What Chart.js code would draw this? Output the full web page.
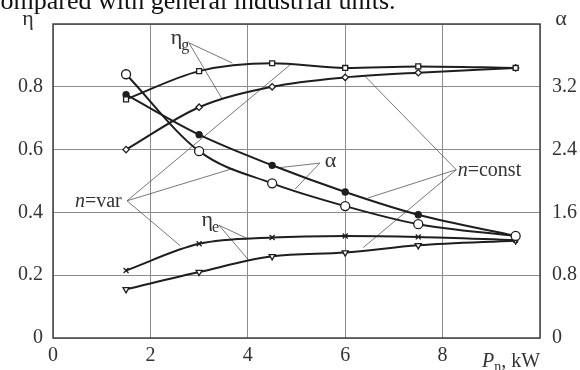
<!DOCTYPE html>
<html>
<head>
<meta charset="utf-8">
<script src="https://cdn.jsdelivr.net/npm/chart.js@4"></script>
<style>
  html, body { margin: 0; padding: 0; background: #fff; }
  canvas { display: block; }
</style>
</head>
<body>
<canvas id="effChart" width="580" height="370"></canvas>
<script>
// output power, kW
const power = [1.5, 3, 4.5, 6, 7.5, 9.5];

// efficiencies (left axis) and alpha (right axis)
const etaGVar = [0.76, 0.85, 0.875, 0.86, 0.865, 0.86];
const etaGConst = [0.60, 0.735, 0.80, 0.83, 0.845, 0.86];
const alphaVar = [3.36, 2.38, 1.97, 1.68, 1.45, 1.30];
const alphaConst = [3.10, 2.59, 2.20, 1.86, 1.57, 1.30];
const etaEVar = [0.215, 0.30, 0.32, 0.325, 0.322, 0.312];
const etaEConst = [0.155, 0.21, 0.26, 0.272, 0.295, 0.31];

const xTicks = [0, 2, 4, 6, 8];
const etaTicks = [0, 0.2, 0.4, 0.6, 0.8];
const alphaTicks = [0, 0.8, 1.6, 2.4, 3.2];

const SERIF = '"Liberation Serif", "DejaVu Serif", serif';
const INK = '#1e1e1e';

function pts(ys) {
  return power.map((p, i) => ({ x: p, y: ys[i] }));
}

function series(label, ys, axis, style, radius, fill, rotation) {
  return {
    label: label,
    data: pts(ys),
    yAxisID: axis,
    borderColor: INK,
    borderWidth: 2,
    cubicInterpolationMode: 'monotone',
    pointStyle: style,
    pointRadius: radius,
    pointRotation: rotation || 0,
    pointBackgroundColor: fill,
    pointBorderColor: INK,
    pointBorderWidth: 1.3,
    fill: false
  };
}

// callout labels with leader lines, in data coordinates (x, eta)
const callouts = [
  { text: 'η', sub: 'g', at: [2.42, 0.955], from: [2.79, 0.94], to: [[3.68, 0.876], [3.47, 0.762]] },
  { text: 'n=var', at: [0.45, 0.437], from: [1.52, 0.437], to: [[4.87, 0.870], [3.70, 0.540], [2.61, 0.294]] },
  { text: 'n=const', at: [8.31, 0.536], from: [8.28, 0.536], to: [[6.41, 0.833], [6.47, 0.446], [6.37, 0.288]] },
  { text: 'α', at: [5.58, 0.565], from: [5.48, 0.557], to: [[4.62, 0.542], [4.97, 0.474]] },
  { text: 'η', sub: 'e', at: [3.05, 0.375], from: [3.41, 0.359], to: [[4.0, 0.316], [4.0, 0.251]] }
];

const decor = {
  id: 'decor',
  beforeDatasetsDraw(chart) {
    const ctx = chart.ctx;
    const xs = chart.scales.x, ys = chart.scales.y;
    ctx.save();
    ctx.strokeStyle = '#555';
    ctx.lineWidth = 0.8;
    callouts.forEach(c => {
      const fx = xs.getPixelForValue(c.from[0]), fy = ys.getPixelForValue(c.from[1]);
      c.to.forEach(t => {
        ctx.beginPath();
        ctx.moveTo(fx, fy);
        ctx.lineTo(xs.getPixelForValue(t[0]), ys.getPixelForValue(t[1]));
        ctx.stroke();
      });
    });
    ctx.restore();
  },
  afterDraw(chart) {
    const ctx = chart.ctx;
    const a = chart.chartArea;
    const xs = chart.scales.x, ys = chart.scales.y;
    ctx.save();
    // frame
    ctx.strokeStyle = '#444';
    ctx.lineWidth = 1.5;
    ctx.strokeRect(a.left, a.top, a.right - a.left, a.bottom - a.top);

    ctx.textBaseline = 'alphabetic';

    // cut-off caption above the figure
    ctx.font = '26px ' + SERIF;
    ctx.textAlign = 'left';
    ctx.fillStyle = '#111';
    ctx.fillText('compared with general industrial units.', -11, 9);

    // axis symbols
    ctx.fillStyle = '#333';
    ctx.font = '22px ' + SERIF;
    ctx.textAlign = 'center';
    ctx.fillText('η', 28, 25);
    ctx.fillText('α', 561, 25);

    // x axis name
    ctx.textAlign = 'left';
    ctx.font = 'italic 20px ' + SERIF;
    let px = 482, base = 367;
    ctx.fillText('P', px, base);
    px += ctx.measureText('P').width;
    ctx.font = '14px ' + SERIF;
    ctx.fillText('n', px, base + 4);
    px += ctx.measureText('n').width;
    ctx.font = '20px ' + SERIF;
    ctx.fillText(', kW', px, base);

    // callout texts
    callouts.forEach(c => {
      const x = xs.getPixelForValue(c.at[0]);
      const y = ys.getPixelForValue(c.at[1]);
      ctx.textAlign = 'left';
      if (c.text.startsWith('n=')) {
        ctx.font = 'italic 20px ' + SERIF;
        ctx.fillText('n', x, y + 6);
        const w = ctx.measureText('n').width;
        ctx.font = '20px ' + SERIF;
        ctx.fillText(c.text.slice(1), x + w, y + 6);
      } else {
        ctx.font = '22px ' + SERIF;
        ctx.fillText(c.text, x, y + 6);
        if (c.sub) {
          const w = ctx.measureText(c.text).width;
          ctx.font = '16px ' + SERIF;
          ctx.fillText(c.sub, x + w - 1, y + 12);
        }
      }
    });
    ctx.restore();
  }
};

const ctx = document.getElementById('effChart').getContext('2d');
new Chart(ctx, {
  type: 'line',
  data: {
    datasets: [
      series('ηg, n=var', etaGVar, 'y', 'rect', 3.5, '#fff'),
      series('ηg, n=const', etaGConst, 'y', 'rectRot', 3.2, '#fff'),
      series('α, n=var', alphaVar, 'y2', 'circle', 4.5, '#fff'),
      series('α, n=const', alphaConst, 'y2', 'circle', 3, INK),
      series('ηe, n=var', etaEVar, 'y', 'crossRot', 3.5, INK),
      series('ηe, n=const', etaEConst, 'y', 'triangle', 3.5, '#fff', 180)
    ]
  },
  options: {
    responsive: false,
    animation: false,
    layout: { padding: { top: 15, left: 0, right: 0, bottom: 0 } },
    plugins: {
      legend: { display: false },
      tooltip: { enabled: false }
    },
    scales: {
      x: {
        type: 'linear',
        min: 0,
        max: 10,
        afterBuildTicks: s => { s.ticks = xTicks.concat([10]).map(v => ({ value: v })); },
        afterFit: s => { s.height = 32; },
        ticks: {
          padding: 6,
          color: '#333',
          font: { family: SERIF, size: 20 },
          callback: v => (xTicks.includes(v) ? String(v) : '')
        },
        grid: { color: '#8c8c8c', lineWidth: 1, drawTicks: false },
        border: { display: false }
      },
      y: {
        position: 'left',
        min: 0,
        max: 1,
        afterBuildTicks: s => { s.ticks = etaTicks.concat([1]).map(v => ({ value: v })); },
        afterFit: s => { s.width = 53; },
        ticks: {
          padding: 10,
          color: '#333',
          font: { family: SERIF, size: 20 },
          callback: v => (v < 0.99 ? String(v) : '')
        },
        grid: { color: '#8c8c8c', lineWidth: 1, drawTicks: false },
        border: { display: false }
      },
      y2: {
        position: 'right',
        min: 0,
        max: 4,
        afterBuildTicks: s => { s.ticks = alphaTicks.concat([4]).map(v => ({ value: v })); },
        afterFit: s => { s.width = 40; },
        ticks: {
          padding: 12,
          color: '#333',
          font: { family: SERIF, size: 20 },
          callback: v => (v < 3.9 ? String(v) : '')
        },
        grid: { display: false, drawTicks: false },
        border: { display: false }
      }
    }
  },
  plugins: [decor]
});
</script>
</body>
</html>
